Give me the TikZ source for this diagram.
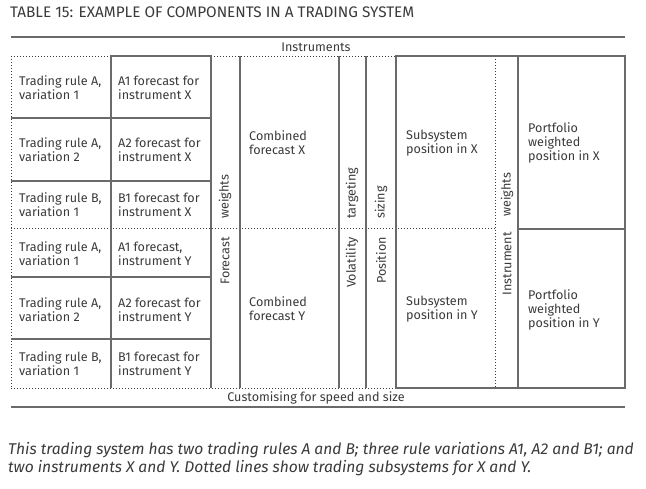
\documentclass[tikz,border=0pt]{standalone}
\usepackage{fontspec}
\setmainfont{Fira Sans}
\usetikzlibrary{positioning}

\definecolor{rulegrey}{HTML}{6A6A6A}
\definecolor{inkgrey}{HTML}{3A3A3A}
\tikzset{
  cell/.style={anchor=west, align=left, inner sep=0pt, text=inkgrey,
    font=\fontsize{12.6}{13.8}\selectfont},
  vlabel/.style={rotate=90, inner sep=0pt, text=inkgrey,
    font=\fontsize{12.6}{13.8}\selectfont},
  solidln/.style={draw=rulegrey, line width=1.3pt},
  dotln/.style={draw=inkgrey, line width=1pt, dash pattern=on 1pt off 2pt},
}

\begin{document}
\begin{tikzpicture}[x=1pt, y=-1pt]
 \useasboundingbox (0,0) rectangle (646,488);
 % title and caption
 \node[anchor=west, inner sep=0pt, text=inkgrey, font=\fontsize{15.3}{16}\selectfont]
   (title) at (10,12) {TABLE 15: EXAMPLE OF COMPONENTS IN A TRADING SYSTEM};
 \node[anchor=north west, align=left, inner sep=0pt, text=inkgrey,
   font=\fontsize{15.6}{18}\selectfont\itshape] (caption) at (8,442)
   {This trading system has two trading rules A and B; three rule variations A1, A2 and B1; and\\
    two instruments X and Y. Dotted lines show trading subsystems for X and Y.};

 % rules
 \draw[solidln] (11,37) -- (625,37);
 \draw[solidln] (11,407) -- (625,407);
 \node[inner sep=0pt, text=inkgrey, font=\fontsize{12.6}{13.8}\selectfont] (instr) at (316,47) {Instruments};
 \node[inner sep=0pt, text=inkgrey, font=\fontsize{12.6}{13.8}\selectfont] (custom) at (316,398) {Customising for speed and size};

 % subsystem outlines
 \draw[dotln] (11,56) -- (111,56) (211,56) -- (396,56);
 \draw[dotln] (11,228) -- (495,228);
 \draw[dotln] (11,388) -- (396,388);
 \draw[dotln] (11,56) -- (11,388);
 \draw[dotln] (495,56) -- (495,388);

 % grid
 \draw[solidln] (111,388) -- (111,56) -- (211,56) -- (211,388);
 \foreach \y in {118,181,277,339}
   \draw[solidln] (11,\y) -- (211,\y);
 \foreach \x in {240,339,366}
   \draw[solidln] (\x,56) -- (\x,388);
 \draw[solidln] (396,56) rectangle (625,388);
 \draw[solidln] (518,56) -- (518,388) (518,229) -- (625,229);

 % rules and forecasts
 \node[cell] (ruleAa) at (19,88)  {Trading rule A,\\variation 1};
 \node[cell] (ruleAb) at (19,150) {Trading rule A,\\variation 2};
 \node[cell] (ruleBa) at (19,205) {Trading rule B,\\variation 1};
 \node[cell] (ruleAc) at (19,254) {Trading rule A,\\variation 1};
 \node[cell] (ruleAd) at (19,310) {Trading rule A,\\variation 2};
 \node[cell] (ruleBb) at (19,364) {Trading rule B,\\variation 1};
 \node[cell] (fcAaX) at (118,88)  {A1 forecast for\\instrument X};
 \node[cell] (fcAbX) at (118,150) {A2 forecast for\\instrument X};
 \node[cell] (fcBaX) at (118,205) {B1 forecast for\\instrument X};
 \node[cell] (fcAaY) at (118,254) {A1 forecast,\\instrument Y};
 \node[cell] (fcAbY) at (118,310) {A2 forecast for\\instrument Y};
 \node[cell] (fcBaY) at (118,364) {B1 forecast for\\instrument Y};

 % vertical stages
 \node[vlabel, anchor=east] (fwA) at (225,237) {Forecast};
 \node[vlabel, anchor=west] (fwB) at (225,219) {weights};
 \node[vlabel, anchor=east] (vtA) at (352,237) {Volatility};
 \node[vlabel, anchor=west] (vtB) at (352,219) {targeting};
 \node[vlabel, anchor=east] (psA) at (381,237) {Position};
 \node[vlabel, anchor=west] (psB) at (381,219) {sizing};
 \node[vlabel, anchor=east] (iwA) at (507,232) {Instrument};
 \node[vlabel, anchor=west] (iwB) at (507,217) {weights};

 % combined outputs
 \node[cell] (combX) at (249,143) {Combined\\forecast X};
 \node[cell] (combY) at (249,309) {Combined\\forecast Y};
 \node[cell] (subX)  at (406,143) {Subsystem\\position in X};
 \node[cell] (subY)  at (406,309) {Subsystem\\position in Y};
 \node[cell] (portX) at (528,143) {Portfolio\\weighted\\position in X};
 \node[cell] (portY) at (528,310) {Portfolio\\weighted\\position in Y};
\end{tikzpicture}
\end{document}
